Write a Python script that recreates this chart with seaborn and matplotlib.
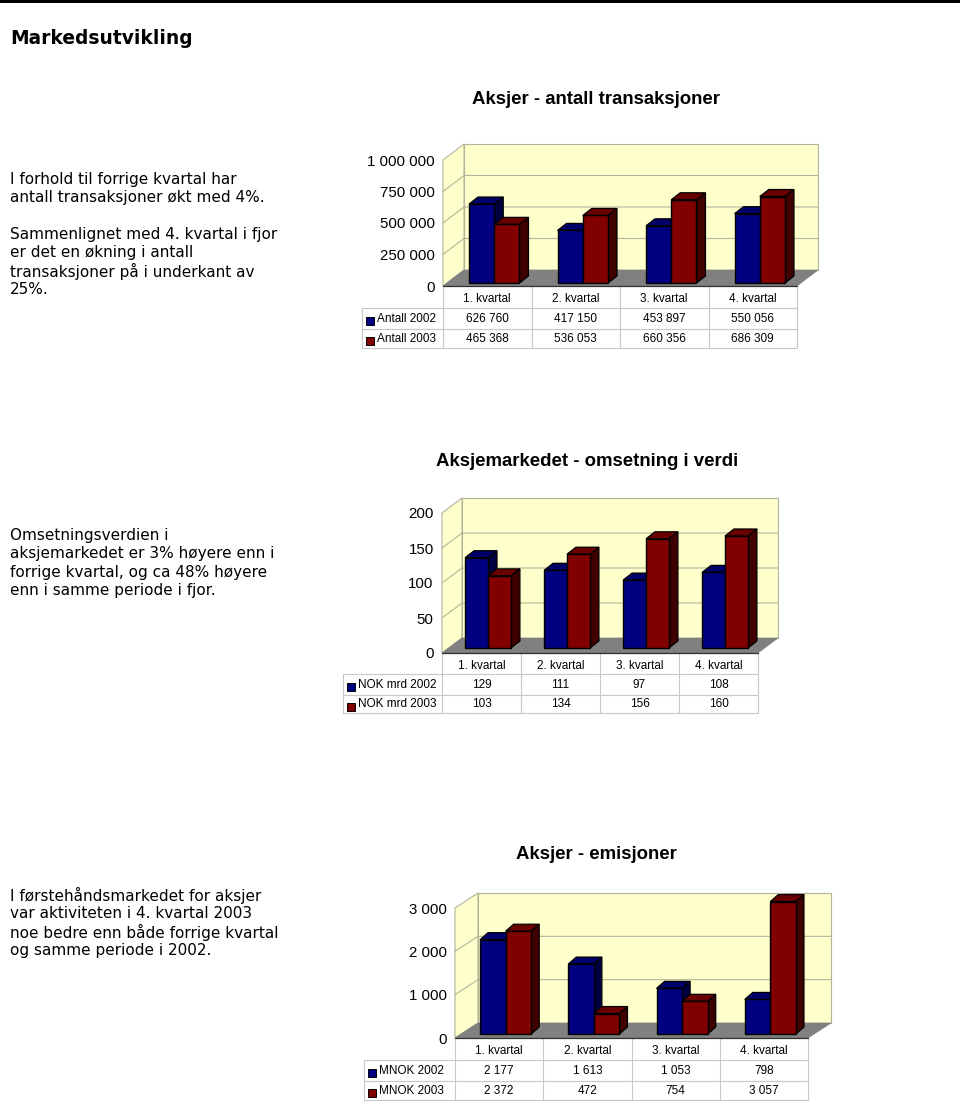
import numpy as np
import pandas as pd
import seaborn as sns
import matplotlib.pyplot as plt
from matplotlib.patches import Polygon, Rectangle
from matplotlib.transforms import Affine2D

W, H = 960, 1101
TEXT_FONT = 'DejaVu Sans'
CHART_FONT = 'Liberation Sans'

quarters = ['1. kvartal', '2. kvartal', '3. kvartal', '4. kvartal']

antall_names = ['Antall 2002', 'Antall 2003']
antall_2002 = [626760, 417150, 453897, 550056]
antall_2003 = [465368, 536053, 660356, 686309]
antall_ticks = [0, 250000, 500000, 750000, 1000000]

verdi_names = ['NOK mrd 2002', 'NOK mrd 2003']
verdi_2002 = [129, 111, 97, 108]
verdi_2003 = [103, 134, 156, 160]
verdi_ticks = [0, 50, 100, 150, 200]

emisjon_names = ['MNOK 2002', 'MNOK 2003']
emisjon_2002 = [2177, 1613, 1053, 798]
emisjon_2003 = [2372, 472, 754, 3057]
emisjon_ticks = [0, 1000, 2000, 3000]

text_1 = ['I forhold til forrige kvartal har', 'antall transaksjoner økt med 4%.', '',
          'Sammenlignet med 4. kvartal i fjor', 'er det en økning i antall',
          'transaksjoner på i underkant av', '25%.']
text_2 = ['Omsetningsverdien i', 'aksjemarkedet er 3% høyere enn i',
          'forrige kvartal, og ca 48% høyere', 'enn i samme periode i fjor.']
text_3 = ['I førstehåndsmarkedet for aksjer', 'var aktiviteten i 4. kvartal 2003',
          'noe bedre enn både forrige kvartal', 'og samme periode i 2002.']

BLUE, RED = '#000080', '#800000'
BLUE_TOP, RED_TOP = '#000068', '#680000'
BLUE_SIDE, RED_SIDE = '#000040', '#400000'
WALL, FLOOR, GRID, TABLE = '#FFFFCC', '#808080', '#B4B49C', '#C8C8C8'


def fmt(v):
    return f'{v:,}'.replace(',', ' ')


def chart(page, names, series, v1, v2, ticks, title, title_xy, left, right, base, top,
          depth, bar_off, bar_depth, width, label_left, rows):
    dx, dy = depth
    # walls and floor are in page pixels
    page.add_patch(Polygon([(left + dx, top + dy), (right + dx, top + dy),
                            (right + dx, base + dy), (left + dx, base + dy)],
                           fc=WALL, ec=GRID, lw=0.8, zorder=1))
    page.add_patch(Polygon([(left, base), (left, top), (left + dx, top + dy), (left + dx, base + dy)],
                           fc=WALL, ec=GRID, lw=0.8, zorder=1))
    page.add_patch(Polygon([(left, base), (right, base), (right + dx, base + dy), (left + dx, base + dy)],
                           fc=FLOOR, ec=FLOOR, lw=0.5, zorder=2))
    for t in ticks[1:-1]:
        y = base - (base - top) * t / ticks[-1]
        page.plot([left, left + dx, right + dx], [y, y + dy, y + dy], color=GRID, lw=0.8, zorder=1.5)

    ax = page.figure.add_axes([left / W, 1 - base / H, (right - left) / W, (base - top) / H], zorder=2)
    df = pd.DataFrame({'kvartal': names * 2, 'verdi': v1 + v2,
                       'serie': [series[0]] * 4 + [series[1]] * 4})
    sns.barplot(data=df, x='kvartal', y='verdi', hue='serie', palette=[BLUE, RED], saturation=1,
                width=width, gap=0, legend=False, ax=ax, edgecolor='black', linewidth=1.0)
    ax.set_xlim(-0.5, 3.5)
    ax.set_ylim(0, ticks[-1])
    ax.patch.set_visible(False)
    sns.despine(ax=ax, left=True, bottom=True, top=True, right=True)
    ax.set_xlabel('')
    ax.set_ylabel('')
    ax.set_yticks(ticks, [fmt(t) for t in ticks])
    ax.tick_params(axis='y', length=3, color=GRID, pad=3, labelsize=10.8, labelcolor='black')
    ax.tick_params(axis='x', length=0, pad=5, labelsize=8.5, labelcolor='black')
    ax.grid(False)

    ox, oy = bar_off
    bx, by = bar_depth
    shift = ax.transData + Affine2D().translate(ox, oy)
    for n, (cont, top_c, side_c) in enumerate(zip(ax.containers, (BLUE_TOP, RED_TOP), (BLUE_SIDE, RED_SIDE))):
        for p in cont:
            xa, xb = p.get_x(), p.get_x() + p.get_width()
            (x0, y0), (x1, y1) = shift.transform([(xa, 0), (xb, p.get_height())])
            side = [(x1, y0), (x1, y1), (x1 + bx, y1 + by), (x1 + bx, y0 + by)]
            cap = [(x0, y1), (x1, y1), (x1 + bx, y1 + by), (x0 + bx, y1 + by)]
            for pts, col in ((side, side_c), (cap, top_c)):
                ax.add_patch(Polygon(pts, fc=col, ec='black', lw=0.9, zorder=3 + n,
                                     transform=Affine2D(), clip_on=False))
            p.set_transform(shift)
            p.set_clip_on(False)
            p.set_zorder(3.5 + n)

    # data table under the chart
    r0, r1, r2, r3 = rows
    cols = np.linspace(left, right, 5)
    for y in (r1, r2, r3):
        page.plot([label_left, right], [y, y], color=TABLE, lw=0.8, zorder=1)
    page.plot([left, right], [r0, r0], color='#303030', lw=0.9, zorder=3)
    page.plot([label_left, label_left], [r1, r3], color=TABLE, lw=0.8, zorder=1)
    for x in cols:
        page.plot([x, x], [r0, r3], color=TABLE, lw=0.8, zorder=1)
    for (ya, yb), label, vals, col in (((r1, r2), series[0], v1, BLUE),
                                       ((r2, r3), series[1], v2, RED)):
        yc = (ya + yb) / 2
        page.add_patch(Rectangle((label_left + 4, yc - 1.5), 8, 8, fc=col, ec='black', lw=0.7, zorder=3))
        page.text(label_left + 15, yc, label, fontsize=8.5, va='center', ha='left',
                  family=CHART_FONT, color='black')
        for j, v in enumerate(vals):
            page.text((cols[j] + cols[j + 1]) / 2, yc, fmt(v), fontsize=8.5, va='center', ha='center',
                      family=CHART_FONT, color='black')
    page.text(title_xy[0], title_xy[1], title, fontsize=13.4, fontweight='bold', va='center', ha='center',
              family=CHART_FONT, color='black')


sns.set_theme(style='white')
plt.rcParams['font.family'] = [CHART_FONT, 'DejaVu Sans']

fig = plt.figure(figsize=(W / 100, H / 100), dpi=100, facecolor='white')
page = fig.add_axes([0, 0, 1, 1], zorder=0)
page.set_xlim(0, W)
page.set_ylim(H, 0)
page.axis('off')

page.add_patch(Rectangle((0, 0), W, 3, fc='black', ec='none'))
page.text(10, 38, 'Markedsutvikling', fontsize=13.4, fontweight='bold', va='center', family=TEXT_FONT, color='black')

for lines, y0 in ((text_1, 179.5), (text_2, 535.5), (text_3, 895.5)):
    for i, line in enumerate(lines):
        page.text(10, y0 + i * 18.3, line, fontsize=10.95, va='center', family=TEXT_FONT, color='black')

chart(page, quarters, antall_names, antall_2002, antall_2003, antall_ticks, 'Aksjer - antall transaksjoner', (596, 99.5),
      443, 797, 286, 160, (21, -16), (7, 3), (9, 7), 0.57, 362, (286, 308, 329, 348))
chart(page, quarters, verdi_names, verdi_2002, verdi_2003, verdi_ticks, 'Aksjemarkedet - omsetning i verdi', (587, 461.5),
      442, 758, 653, 513, (20, -15), (6.5, 5), (9, 7), 0.58, 343, (653, 674, 695, 713))
chart(page, quarters, emisjon_names, emisjon_2002, emisjon_2003, emisjon_ticks, 'Aksjer - emisjoner', (596, 854.5),
      455, 808, 1038, 908, (23, -15), (6.5, 4), (8, 7), 0.58, 364, (1038, 1060, 1081, 1100))

fig.savefig('out.png', dpi=100)
